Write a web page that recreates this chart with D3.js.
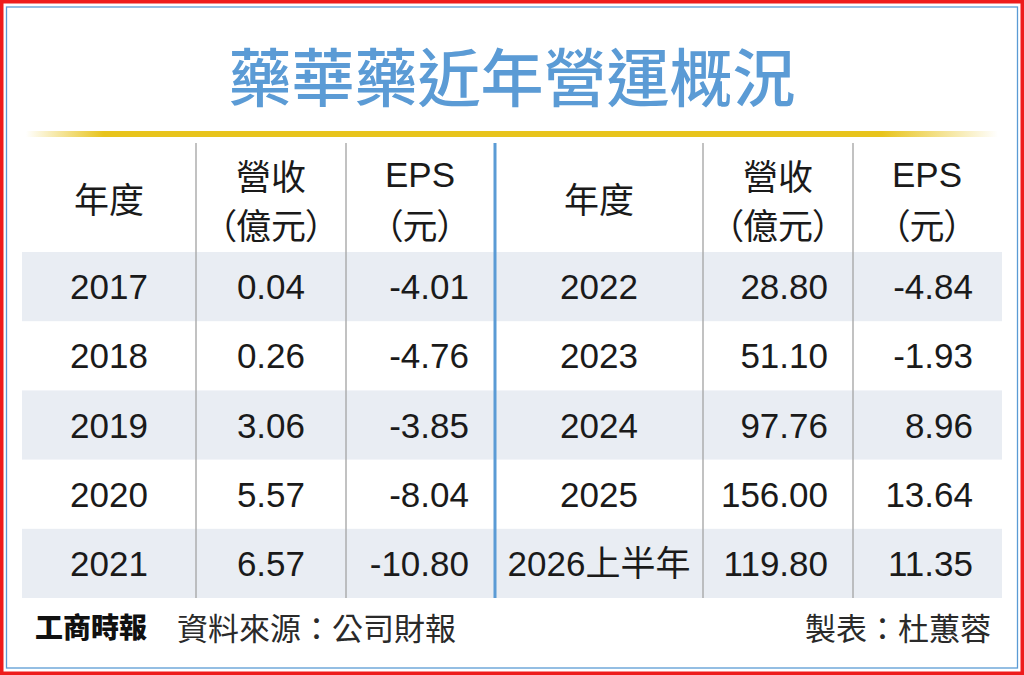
<!DOCTYPE html>
<html>
<head>
<meta charset="utf-8">
<script src="https://cdn.jsdelivr.net/npm/d3@7"></script>
<style>
  html, body { margin: 0; padding: 0; background: #fff; }
  svg text.palt { font-feature-settings: "palt"; }
</style>
</head>
<body>
<div id="chart"></div>
<script>
// table contents
var title = "藥華藥近年營運概況";
var headYear = "年度";
var headRev = ["營收", "（億元）"];
var headEps = ["EPS", "（元）"];
var leftYears = ["2017", "2018", "2019", "2020", "2021"];
var leftRev = ["0.04", "0.26", "3.06", "5.57", "6.57"];
var leftEps = ["-4.01", "-4.76", "-3.85", "-8.04", "-10.80"];
var rightYears = ["2022", "2023", "2024", "2025", "2026上半年"];
var rightRev = ["28.80", "51.10", "97.76", "156.00", "119.80"];
var rightEps = ["-4.84", "-1.93", "8.96", "13.64", "11.35"];
var logo = "工商時報";
var source = "資料來源：公司財報";
var maker = "製表：杜蕙蓉";

var W = 1024, H = 675;
var cjk = "'Noto Sans CJK TC', 'Noto Sans CJK SC', sans-serif";
var num = "'Liberation Sans', Arial, 'Noto Sans CJK TC', sans-serif";

var svg = d3.select("#chart").append("svg")
    .attr("width", W)
    .attr("height", H);

var defs = svg.append("defs");
var grad = defs.append("linearGradient").attr("id", "gold");
grad.append("stop").attr("offset", "0%").attr("stop-color", "#e8c41c").attr("stop-opacity", 0);
grad.append("stop").attr("offset", "8%").attr("stop-color", "#e8c41c").attr("stop-opacity", 1);
grad.append("stop").attr("offset", "88%").attr("stop-color", "#e8c41c").attr("stop-opacity", 1);
grad.append("stop").attr("offset", "100%").attr("stop-color", "#e8c41c").attr("stop-opacity", 0);

// frame
svg.append("rect")
    .attr("x", 1.5).attr("y", 1.5)
    .attr("width", W - 3).attr("height", H - 3)
    .attr("fill", "#fff")
    .attr("stroke", "#ee1c1c")
    .attr("stroke-width", 4);
svg.append("rect")
    .attr("x", 6.5).attr("y", 7)
    .attr("width", 1011).attr("height", 661)
    .attr("fill", "none")
    .attr("stroke", "#5b9bd5")
    .attr("stroke-width", 1.3);

// title
svg.append("text")
    .attr("x", 512)
    .attr("y", 73)
    .attr("text-anchor", "middle")
    .attr("dominant-baseline", "central")
    .attr("font-family", cjk)
    .attr("font-weight", 500)
    .attr("font-size", 63)
    .attr("fill", "#5b9bd5")
    .text(title);

svg.append("rect")
    .attr("x", 26).attr("y", 131)
    .attr("width", 972).attr("height", 6)
    .attr("fill", "url(#gold)");

// layout scales
var tableLeft = 22, tableRight = 1002;
var edges = [tableLeft, 196, 346, 495, 703, 853, tableRight];
var y = d3.scaleBand()
    .domain(d3.range(leftYears.length))
    .range([252, 598]);

// banded rows
svg.append("g").selectAll("rect")
    .data(d3.range(leftYears.length).filter(function(i) { return i % 2 === 0; }))
    .enter().append("rect")
    .attr("x", tableLeft)
    .attr("y", function(i) { return y(i); })
    .attr("width", tableRight - tableLeft)
    .attr("height", y.bandwidth())
    .attr("fill", "#e9edf3");

// dividers
[1, 2, 4, 5].forEach(function(k) {
    svg.append("line")
        .attr("x1", edges[k]).attr("x2", edges[k])
        .attr("y1", 143).attr("y2", 598)
        .attr("stroke", "#a8a8a8")
        .attr("stroke-width", 1.4);
});
svg.append("line")
    .attr("x1", edges[3]).attr("x2", edges[3])
    .attr("y1", 143).attr("y2", 598)
    .attr("stroke", "#5b9bd5")
    .attr("stroke-width", 3);

// header
function header(cx, lines) {
    var ys = lines.length === 1 ? [197] : [174, 223];
    lines.forEach(function(t, i) {
        svg.append("text")
            .attr("class", "palt")
            .attr("x", cx)
            .attr("y", ys[i])
            .attr("text-anchor", "middle")
            .attr("dominant-baseline", "central")
            .attr("font-family", t === "EPS" ? num : cjk)
            .attr("font-size", 35)
            .attr("fill", "#1a1a1a")
            .text(t);
    });
}
header(109, [headYear]);
header(271, headRev);
header(420, headEps);
header(599, [headYear]);
header(778, headRev);
header(927, headEps);

// cells
function column(vals, x, anchor) {
    svg.append("g").selectAll("text")
        .data(vals)
        .enter().append("text")
        .attr("x", x)
        .attr("y", function(d, i) { return y(i) + y.bandwidth() / 2; })
        .attr("text-anchor", anchor)
        .attr("dominant-baseline", "central")
        .attr("font-family", num)
        .attr("font-size", 35)
        .attr("fill", "#1a1a1a")
        .text(function(d) { return d; });
}
column(leftYears, 109, "middle");
column(leftRev, 305, "end");
column(leftEps, 469, "end");
column(rightYears, 599, "middle");
column(rightRev, 828, "end");
column(rightEps, 973, "end");

// footer
svg.append("text")
    .attr("x", 35)
    .attr("y", 626)
    .attr("dominant-baseline", "central")
    .attr("font-family", cjk)
    .attr("font-weight", 900)
    .attr("font-size", 28)
    .attr("fill", "#111")
    .text(logo);
svg.append("text")
    .attr("x", 177)
    .attr("y", 626)
    .attr("dominant-baseline", "central")
    .attr("font-family", cjk)
    .attr("font-size", 31)
    .attr("fill", "#2a2a2a")
    .text(source);
svg.append("text")
    .attr("x", 991)
    .attr("y", 626)
    .attr("text-anchor", "end")
    .attr("dominant-baseline", "central")
    .attr("font-family", cjk)
    .attr("font-size", 31)
    .attr("fill", "#2a2a2a")
    .text(maker);
</script>
</body>
</html>
